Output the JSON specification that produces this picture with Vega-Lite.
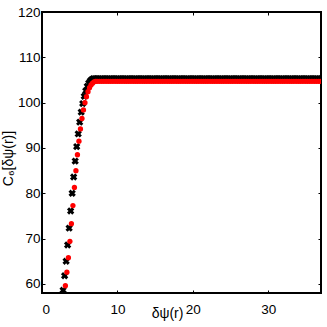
{
  "$schema": "https://vega.github.io/schema/vega-lite/v6.json",
  "width": 279,
  "height": 281,
  "autosize": {"type": "none"},
  "padding": {"left": 42, "top": 12, "right": 6, "bottom": 34},
  "background": "white",
  "config": {
    "view": {"stroke": "black", "strokeWidth": 2},
    "axis": {
      "domain": false, "grid": false, "tickColor": "black", "tickSize": -3, "tickWidth": 1,
      "labelFont": "Liberation Sans Narrow, Liberation Sans", "labelFontSize": 13.5, "labelColor": "black",
      "titleFont": "Liberation Sans Narrow, Liberation Sans", "titleFontSize": 14, "titleFontWeight": "normal", "titleColor": "black"
    }
  },
  "datasets": {
    "black": [
      {"x":2.8,"y":58.6},{"x":3.0,"y":61.8},{"x":3.2,"y":65.0},{"x":3.4,"y":68.6},{"x":3.6,"y":72.3},{"x":3.8,"y":76.1},{"x":4.0,"y":80.0},{"x":4.2,"y":83.6},{"x":4.4,"y":87.1},{"x":4.6,"y":90.3},{"x":4.8,"y":93.1},{"x":5.0,"y":95.7},{"x":5.2,"y":97.9},{"x":5.4,"y":99.8},{"x":5.6,"y":101.4},{"x":5.8,"y":102.6},{"x":6.0,"y":103.6},{"x":6.2,"y":104.3},{"x":6.4,"y":104.8},{"x":6.6,"y":105.1},{"x":6.8,"y":105.3},{"x":7.0,"y":105.3},
      {"x":7.3,"y":105.3},{"x":7.6,"y":105.3},{"x":7.9,"y":105.3},{"x":8.2,"y":105.3},{"x":8.5,"y":105.3},{"x":8.8,"y":105.3},{"x":9.1,"y":105.3},{"x":9.4,"y":105.3},{"x":9.7,"y":105.3},{"x":10.0,"y":105.3},
      {"x":10.3,"y":105.3},{"x":10.6,"y":105.3},{"x":10.9,"y":105.3},{"x":11.2,"y":105.3},{"x":11.5,"y":105.3},{"x":11.8,"y":105.3},{"x":12.1,"y":105.3},{"x":12.4,"y":105.3},{"x":12.7,"y":105.3},{"x":13.0,"y":105.3},
      {"x":13.3,"y":105.3},{"x":13.6,"y":105.3},{"x":13.9,"y":105.3},{"x":14.2,"y":105.3},{"x":14.5,"y":105.3},{"x":14.8,"y":105.3},{"x":15.1,"y":105.3},{"x":15.4,"y":105.3},{"x":15.7,"y":105.3},{"x":16.0,"y":105.3},
      {"x":16.3,"y":105.3},{"x":16.6,"y":105.3},{"x":16.9,"y":105.3},{"x":17.2,"y":105.3},{"x":17.5,"y":105.3},{"x":17.8,"y":105.3},{"x":18.1,"y":105.3},{"x":18.4,"y":105.3},{"x":18.7,"y":105.3},{"x":19.0,"y":105.3},
      {"x":19.3,"y":105.3},{"x":19.6,"y":105.3},{"x":19.9,"y":105.3},{"x":20.2,"y":105.3},{"x":20.5,"y":105.3},{"x":20.8,"y":105.3},{"x":21.1,"y":105.3},{"x":21.4,"y":105.3},{"x":21.7,"y":105.3},{"x":22.0,"y":105.3},
      {"x":22.3,"y":105.3},{"x":22.6,"y":105.3},{"x":22.9,"y":105.3},{"x":23.2,"y":105.3},{"x":23.5,"y":105.3},{"x":23.8,"y":105.3},{"x":24.1,"y":105.3},{"x":24.4,"y":105.3},{"x":24.7,"y":105.3},{"x":25.0,"y":105.3},
      {"x":25.3,"y":105.3},{"x":25.6,"y":105.3},{"x":25.9,"y":105.3},{"x":26.2,"y":105.3},{"x":26.5,"y":105.3},{"x":26.8,"y":105.3},{"x":27.1,"y":105.3},{"x":27.4,"y":105.3},{"x":27.7,"y":105.3},{"x":28.0,"y":105.3},
      {"x":28.3,"y":105.3},{"x":28.6,"y":105.3},{"x":28.9,"y":105.3},{"x":29.2,"y":105.3},{"x":29.5,"y":105.3},{"x":29.8,"y":105.3},{"x":30.1,"y":105.3},{"x":30.4,"y":105.3},{"x":30.7,"y":105.3},{"x":31.0,"y":105.3},
      {"x":31.3,"y":105.3},{"x":31.6,"y":105.3},{"x":31.9,"y":105.3},{"x":32.2,"y":105.3},{"x":32.5,"y":105.3},{"x":32.8,"y":105.3},{"x":33.1,"y":105.3},{"x":33.4,"y":105.3},{"x":33.7,"y":105.3},{"x":34.0,"y":105.3},
      {"x":34.3,"y":105.3},{"x":34.6,"y":105.3},{"x":34.9,"y":105.3},{"x":35.2,"y":105.3},{"x":35.5,"y":105.3},{"x":35.8,"y":105.3},{"x":36.1,"y":105.3},{"x":36.4,"y":105.3},{"x":36.7,"y":105.3},{"x":37.0,"y":105.3}
    ],
    "red": [
      {"x":3.1,"y":59.6},{"x":3.3,"y":62.6},{"x":3.5,"y":65.8},{"x":3.7,"y":69.4},{"x":3.9,"y":73.3},{"x":4.1,"y":77.3},{"x":4.3,"y":81.3},{"x":4.5,"y":85.0},{"x":4.7,"y":88.5},{"x":4.9,"y":91.5},{"x":5.1,"y":94.2},{"x":5.3,"y":96.5},{"x":5.5,"y":98.4},{"x":5.7,"y":100.0},{"x":5.9,"y":101.3},{"x":6.1,"y":102.4},{"x":6.3,"y":103.3},{"x":6.5,"y":103.9},{"x":6.7,"y":104.3},{"x":6.9,"y":104.6},{"x":7.1,"y":104.7},
      {"x":7.3,"y":104.7},{"x":7.6,"y":104.7},{"x":7.9,"y":104.7},{"x":8.2,"y":104.7},{"x":8.5,"y":104.7},{"x":8.8,"y":104.7},{"x":9.1,"y":104.7},{"x":9.4,"y":104.7},{"x":9.7,"y":104.7},{"x":10.0,"y":104.7},
      {"x":10.3,"y":104.7},{"x":10.6,"y":104.7},{"x":10.9,"y":104.7},{"x":11.2,"y":104.7},{"x":11.5,"y":104.7},{"x":11.8,"y":104.7},{"x":12.1,"y":104.7},{"x":12.4,"y":104.7},{"x":12.7,"y":104.7},{"x":13.0,"y":104.7},
      {"x":13.3,"y":104.7},{"x":13.6,"y":104.7},{"x":13.9,"y":104.7},{"x":14.2,"y":104.7},{"x":14.5,"y":104.7},{"x":14.8,"y":104.7},{"x":15.1,"y":104.7},{"x":15.4,"y":104.7},{"x":15.7,"y":104.7},{"x":16.0,"y":104.7},
      {"x":16.3,"y":104.7},{"x":16.6,"y":104.7},{"x":16.9,"y":104.7},{"x":17.2,"y":104.7},{"x":17.5,"y":104.7},{"x":17.8,"y":104.7},{"x":18.1,"y":104.7},{"x":18.4,"y":104.7},{"x":18.7,"y":104.7},{"x":19.0,"y":104.7},
      {"x":19.3,"y":104.7},{"x":19.6,"y":104.7},{"x":19.9,"y":104.7},{"x":20.2,"y":104.7},{"x":20.5,"y":104.7},{"x":20.8,"y":104.7},{"x":21.1,"y":104.7},{"x":21.4,"y":104.7},{"x":21.7,"y":104.7},{"x":22.0,"y":104.7},
      {"x":22.3,"y":104.7},{"x":22.6,"y":104.7},{"x":22.9,"y":104.7},{"x":23.2,"y":104.7},{"x":23.5,"y":104.7},{"x":23.8,"y":104.7},{"x":24.1,"y":104.7},{"x":24.4,"y":104.7},{"x":24.7,"y":104.7},{"x":25.0,"y":104.7},
      {"x":25.3,"y":104.7},{"x":25.6,"y":104.7},{"x":25.9,"y":104.7},{"x":26.2,"y":104.7},{"x":26.5,"y":104.7},{"x":26.8,"y":104.7},{"x":27.1,"y":104.7},{"x":27.4,"y":104.7},{"x":27.7,"y":104.7},{"x":28.0,"y":104.7},
      {"x":28.3,"y":104.7},{"x":28.6,"y":104.7},{"x":28.9,"y":104.7},{"x":29.2,"y":104.7},{"x":29.5,"y":104.7},{"x":29.8,"y":104.7},{"x":30.1,"y":104.7},{"x":30.4,"y":104.7},{"x":30.7,"y":104.7},{"x":31.0,"y":104.7},
      {"x":31.3,"y":104.7},{"x":31.6,"y":104.7},{"x":31.9,"y":104.7},{"x":32.2,"y":104.7},{"x":32.5,"y":104.7},{"x":32.8,"y":104.7},{"x":33.1,"y":104.7},{"x":33.4,"y":104.7},{"x":33.7,"y":104.7},{"x":34.0,"y":104.7},
      {"x":34.3,"y":104.7},{"x":34.6,"y":104.7},{"x":34.9,"y":104.7},{"x":35.2,"y":104.7},{"x":35.5,"y":104.7},{"x":35.8,"y":104.7},{"x":36.1,"y":104.7},{"x":36.4,"y":104.7},{"x":36.7,"y":104.7},{"x":37.0,"y":104.7}
    ]
  },
  "resolve": {"axis": {"x": "independent", "y": "independent"}},
  "layer": [
    {
      "data": {"name": "black"},
      "mark": {"type": "point", "shape": "cross", "angle": 45, "filled": true, "color": "black", "opacity": 1, "size": 55, "clip": true},
      "encoding": {
        "x": {"field": "x", "type": "quantitative", "scale": {"domain": [0, 37], "nice": false, "zero": false},
              "axis": {"values": [0, 10, 20, 30], "title": "δψ(r)", "labelPadding": 12, "titleX": 125, "titleY": 13, "titleBaseline": "top", "titleAnchor": "middle"}},
        "y": {"field": "y", "type": "quantitative", "scale": {"domain": [58, 120], "nice": false, "zero": false},
              "axis": {"values": [60, 70, 80, 90, 100, 110, 120], "title": "C₆[δψ(r)]", "labelPadding": 5, "titlePadding": 2, "titleY": 146}}
      }
    },
    {
      "data": {"name": "red"},
      "mark": {"type": "point", "shape": "circle", "filled": true, "color": "#ff0000", "opacity": 1, "size": 28, "clip": true},
      "encoding": {
        "x": {"field": "x", "type": "quantitative", "axis": {"orient": "top", "values": [0, 10, 20, 30], "labels": false, "title": null}},
        "y": {"field": "y", "type": "quantitative", "axis": {"orient": "right", "values": [60, 70, 80, 90, 100, 110, 120], "labels": false, "title": null}}
      }
    }
  ]
}
